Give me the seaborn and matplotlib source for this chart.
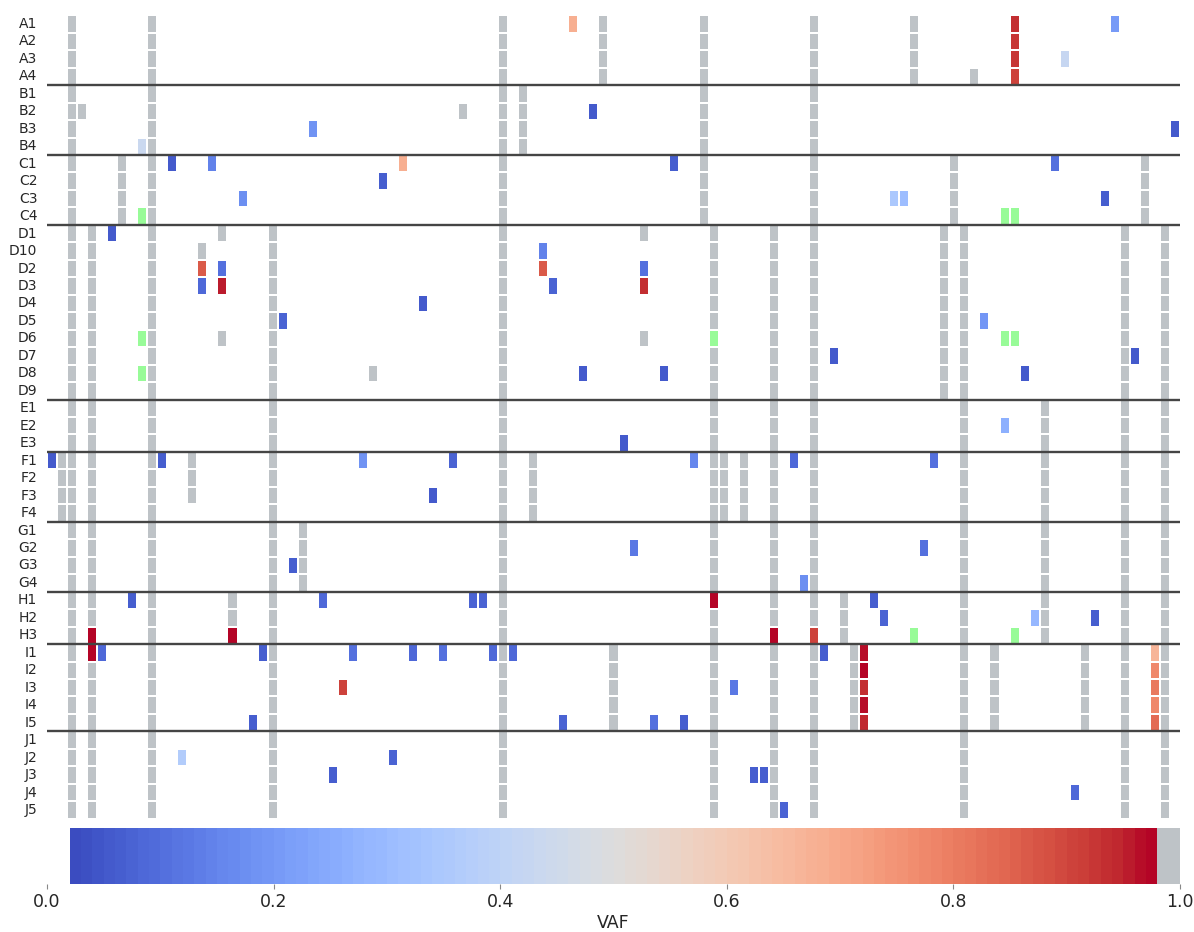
import numpy as np
import pandas as pd
import matplotlib
matplotlib.use("Agg")
import matplotlib.pyplot as plt
import seaborn as sns
from matplotlib.colors import ListedColormap

# ---------------- data ----------------
row_labels = ["A1", "A2", "A3", "A4",
              "B1", "B2", "B3", "B4",
              "C1", "C2", "C3", "C4",
              "D1", "D10", "D2", "D3", "D4", "D5", "D6", "D7", "D8", "D9",
              "E1", "E2", "E3",
              "F1", "F2", "F3", "F4",
              "G1", "G2", "G3", "G4",
              "H1", "H2", "H3",
              "I1", "I2", "I3", "I4", "I5",
              "J1", "J2", "J3", "J4", "J5"]
n_variants = 113

# germline (gray) variant columns shared by every sample of a patient group
germline_group = {
    "A": [2, 10, 45, 55, 65, 76, 86],
    "B": [2, 10, 45, 47, 65, 76],
    "C": [2, 7, 10, 45, 65, 76, 90, 109],
    "D": [2, 4, 10, 22, 45, 66, 72, 76, 89, 91, 107, 111],
    "E": [2, 4, 10, 22, 45, 66, 72, 76, 91, 99, 107, 111],
    "F": [1, 2, 4, 10, 22, 45, 48, 66, 67, 69, 72, 76, 91, 99, 107, 111],
    "G": [2, 4, 10, 22, 25, 45, 66, 72, 76, 91, 99, 107, 111],
    "H": [2, 4, 10, 18, 22, 45, 66, 72, 76, 79, 91, 99, 107, 111],
    "I": [2, 4, 10, 22, 45, 56, 66, 72, 76, 80, 91, 94, 103, 107, 111],
    "J": [2, 4, 10, 22, 45, 66, 72, 76, 91, 107, 111],
}
# sample-specific germline (gray) columns
germline_sample = {
    "A4": [92], "B2": [3, 41], "D1": [17, 59], "D10": [15], "D6": [17, 59],
    "D8": [32], "F1": [14], "F2": [14], "F3": [14],
}
# somatic variants: (column, VAF)
somatic = {
    "A1": [(52, 0.68), (96, 0.93), (106, 0.20)],
    "A2": [(96, 0.92)],
    "A3": [(96, 0.92), (101, 0.42)],
    "A4": [(96, 0.90)],
    "B2": [(54, 0.05)],
    "B3": [(26, 0.18), (112, 0.05)],
    "B4": [(9, 0.43)],
    "C1": [(12, 0.05), (16, 0.14), (35, 0.68), (62, 0.06), (100, 0.10)],
    "C2": [(33, 0.06)],
    "C3": [(19, 0.17), (84, 0.34), (85, 0.30), (105, 0.06)],
    "D1": [(6, 0.05)],
    "D10": [(49, 0.14)],
    "D2": [(15, 0.86), (17, 0.10), (49, 0.86), (59, 0.10)],
    "D3": [(15, 0.08), (17, 0.95), (50, 0.07), (59, 0.93)],
    "D4": [(37, 0.05)],
    "D5": [(23, 0.07), (93, 0.19)],
    "D7": [(78, 0.05), (108, 0.05)],
    "D8": [(53, 0.05), (61, 0.05), (97, 0.05)],
    "E2": [(95, 0.26)],
    "E3": [(57, 0.05)],
    "F1": [(0, 0.05), (11, 0.06), (31, 0.18), (40, 0.07), (64, 0.15), (74, 0.08), (88, 0.10)],
    "F3": [(38, 0.05)],
    "G2": [(58, 0.12), (87, 0.10)],
    "G3": [(24, 0.06)],
    "G4": [(75, 0.17)],
    "H1": [(8, 0.06), (27, 0.08), (42, 0.07), (43, 0.07), (66, 0.97), (82, 0.06)],
    "H2": [(83, 0.07), (98, 0.28), (104, 0.06)],
    "H3": [(4, 0.97), (18, 0.97), (72, 0.97), (76, 0.90)],
    "I1": [(4, 0.97), (5, 0.08), (21, 0.06), (30, 0.10), (36, 0.08), (39, 0.10),
           (44, 0.08), (46, 0.08), (77, 0.06), (81, 0.96), (110, 0.66)],
    "I2": [(81, 0.97), (110, 0.77)],
    "I3": [(29, 0.90), (68, 0.12), (81, 0.93), (110, 0.80)],
    "I4": [(81, 0.96), (110, 0.77)],
    "I5": [(20, 0.06), (51, 0.07), (60, 0.10), (63, 0.06), (81, 0.94), (110, 0.83)],
    "J2": [(13, 0.36), (34, 0.07)],
    "J3": [(28, 0.06), (70, 0.06), (71, 0.06)],
    "J4": [(102, 0.08)],
    "J5": [(73, 0.07)],
}
# flagged variants (green)
flagged = {"C4": [9, 95, 96], "D6": [9, 66, 95, 96], "D8": [9], "H3": [86, 96]}

cbar_ticks = [0.0, 0.2, 0.4, 0.6, 0.8, 1.0]

# ---------------- build matrices ----------------
GERMLINE_VALUE = 1.0
vaf = pd.DataFrame(np.nan, index=row_labels, columns=range(n_variants))
for r in row_labels:
    for c in germline_group[r[0]]:
        vaf.loc[r, c] = GERMLINE_VALUE
    for c in germline_sample.get(r, []):
        vaf.loc[r, c] = GERMLINE_VALUE
    for c, v in somatic.get(r, []):
        vaf.loc[r, c] = v
green = pd.DataFrame(np.nan, index=row_labels, columns=range(n_variants))
for r, cols in flagged.items():
    for c in cols:
        green.loc[r, c] = 1.0
        vaf.loc[r, c] = np.nan

# ---------------- style ----------------
sns.set_style("white")
plt.rcParams["font.family"] = ["DejaVu Sans"]

gray = "#bec3c7"
cw = plt.get_cmap("coolwarm")(np.linspace(0, 1, 96))
cmap = ListedColormap(["white", "white"] + [tuple(c) for c in cw] + [gray, gray])

W, H = 1194, 932
fig = plt.figure(figsize=(W / 100, H / 100), dpi=100)
ax = fig.add_axes([47 / W, 1 - 818.7 / H, 1133 / W, (818.7 - 15.3) / H])
cax = fig.add_axes([47 / W, 1 - 884 / H, 1133 / W, 56 / H])

sns.heatmap(vaf, ax=ax, cmap=cmap, vmin=0, vmax=1, linewidths=1.1, linecolor="white",
            cbar=True, cbar_ax=cax, cbar_kws={"orientation": "horizontal"},
            xticklabels=False, yticklabels=row_labels)
sns.heatmap(green, ax=ax, cmap=ListedColormap(["#98fb98"]), vmin=0, vmax=1,
            linewidths=1.1, linecolor="white", cbar=False,
            xticklabels=False, yticklabels=row_labels)

# group separators
bounds = []
prev = row_labels[0][0]
for i, r in enumerate(row_labels):
    if r[0] != prev:
        bounds.append(i)
        prev = r[0]
for b in bounds:
    ax.axhline(b, color="#454545", lw=1.7, zorder=5)

ax.set_xlabel("")
ax.set_ylabel("")
ax.tick_params(axis="y", length=0, pad=7, labelsize=10, labelcolor="#262626")
ax.set_yticklabels(row_labels, rotation=0)
for s in ax.spines.values():
    s.set_visible(False)

cb = ax.collections[0].colorbar
cb.outline.set_visible(False)
cb.set_ticks(cbar_ticks)
cb.set_ticklabels([f"{t:.1f}" for t in cbar_ticks])
cax.tick_params(axis="x", length=3.5, width=0.8, color="#888888", labelsize=12.5,
                labelcolor="#262626", bottom=True, pad=3)
cb.set_label("VAF", fontsize=12.5, color="#262626", labelpad=2)

fig.savefig("out.png", dpi=100)
